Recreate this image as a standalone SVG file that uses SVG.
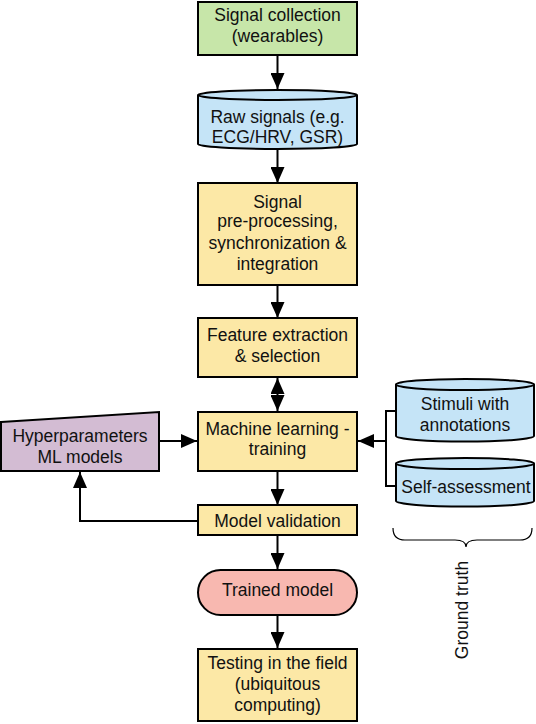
<svg xmlns="http://www.w3.org/2000/svg" width="536" height="724" viewBox="0 0 536 724">
<style>
.box{stroke:#000;stroke-width:2}
.y{fill:#fce8a6}
.g{fill:#c7e6a9}
.b{fill:#c5e4f7}
.p{fill:#d3bcd3}
.r{fill:#f8b8b0}
text{font-family:"Liberation Sans",Arial,sans-serif;font-size:17.5px;fill:#111;text-anchor:middle;dominant-baseline:central}
.c{fill:none;stroke:#000;stroke-width:2}
</style>
<defs>
<marker id="ah" markerUnits="userSpaceOnUse" markerWidth="16" markerHeight="14" refX="16" refY="7" orient="auto-start-reverse">
<path d="M0,0 L16,7 L0,14 Z" fill="#000"/>
</marker>
</defs>
<rect width="536" height="724" fill="#fff"/>
<g id="signal-collection">
<rect class="box g" x="198" y="2" width="159" height="53"/>
<text x="277.5" y="15">Signal collection</text>
<text x="277.5" y="36">(wearables)</text>
</g>
<g id="raw-signals">
<path class="box b" d="M198,95 a79.5,5 0 0 1 159,0 V144 a79.5,5 0 0 1 -159,0 Z"/>
<path class="c" d="M198,95 a79.5,5 0 0 0 159,0"/>
<text x="277.5" y="117">Raw signals (e.g.</text>
<text x="277.5" y="137">ECG/HRV, GSR)</text>
</g>
<g id="preprocessing">
<rect class="box y" x="198" y="183" width="159" height="102"/>
<text x="277.5" y="202">Signal</text>
<text x="277.5" y="221">pre-processing,</text>
<text x="277.5" y="243">synchronization &amp;</text>
<text x="277.5" y="264">integration</text>
</g>
<g id="feature-extraction">
<rect class="box y" x="198" y="318" width="159" height="59"/>
<text x="277.5" y="335">Feature extraction</text>
<text x="277.5" y="356">&amp; selection</text>
</g>
<g id="ml-training">
<rect class="box y" x="198" y="412" width="159" height="59"/>
<text x="277.5" y="429">Machine learning -</text>
<text x="277.5" y="449">training</text>
</g>
<g id="hyperparameters">
<path class="box p" d="M1,422 L159,412 L159,471 L1,471 Z"/>
<text x="80" y="436">Hyperparameters</text>
<text x="80" y="457">ML models</text>
</g>
<g id="stimuli">
<path class="box b" d="M396,384.5 a69,5.5 0 0 1 138,0 V436 a69,5.5 0 0 1 -138,0 Z"/>
<path class="c" d="M396,384.5 a69,5.5 0 0 0 138,0"/>
<text x="465" y="404">Stimuli with</text>
<text x="465" y="425">annotations</text>
</g>
<g id="self-assessment">
<path class="box b" d="M396,463.5 a69,5.5 0 0 1 138,0 V501 a69,5.5 0 0 1 -138,0 Z"/>
<path class="c" d="M396,463.5 a69,5.5 0 0 0 138,0"/>
<text x="466" y="487">Self-assessment</text>
</g>
<g id="model-validation">
<rect class="box y" x="198" y="505" width="159" height="30"/>
<text x="277.5" y="520.5">Model validation</text>
</g>
<g id="trained-model">
<rect class="box r" x="198" y="570" width="159" height="45" rx="22.5"/>
<text x="277.5" y="590">Trained model</text>
</g>
<g id="testing">
<rect class="box y" x="198" y="649" width="159" height="72"/>
<text x="277.5" y="663">Testing in the field</text>
<text x="277.5" y="684">(ubiquitous</text>
<text x="277.5" y="705">computing)</text>
</g>
<g id="ground-truth">
<path d="M393,528 Q393,540 405,540 L455,540 Q466,540 466,547 Q466,540 477,540 L520,540 Q532,540 532,528" fill="none" stroke="#000" stroke-width="1.2"/>
<text x="462" y="610" transform="rotate(-90 462 610)">Ground truth</text>
</g>
<g id="connectors" fill="none" stroke="#000" stroke-width="2">
<line x1="277.5" y1="55" x2="277.5" y2="89" marker-end="url(#ah)"/>
<line x1="277.5" y1="149" x2="277.5" y2="183" marker-end="url(#ah)"/>
<line x1="277.5" y1="285" x2="277.5" y2="318" marker-end="url(#ah)"/>
<line x1="277.5" y1="378" x2="277.5" y2="411" marker-start="url(#ah)" marker-end="url(#ah)"/>
<line x1="277.5" y1="471" x2="277.5" y2="505" marker-end="url(#ah)"/>
<line x1="277.5" y1="535" x2="277.5" y2="569" marker-end="url(#ah)"/>
<line x1="277.5" y1="615" x2="277.5" y2="648" marker-end="url(#ah)"/>
<line x1="159" y1="441" x2="197" y2="441" marker-end="url(#ah)"/>
<polyline points="198,521 80,521 80,472" marker-end="url(#ah)"/>
<polyline points="396,411 386,411 386,486 396,486"/>
<line x1="386" y1="441" x2="358" y2="441" marker-end="url(#ah)"/>
</g>
</svg>
